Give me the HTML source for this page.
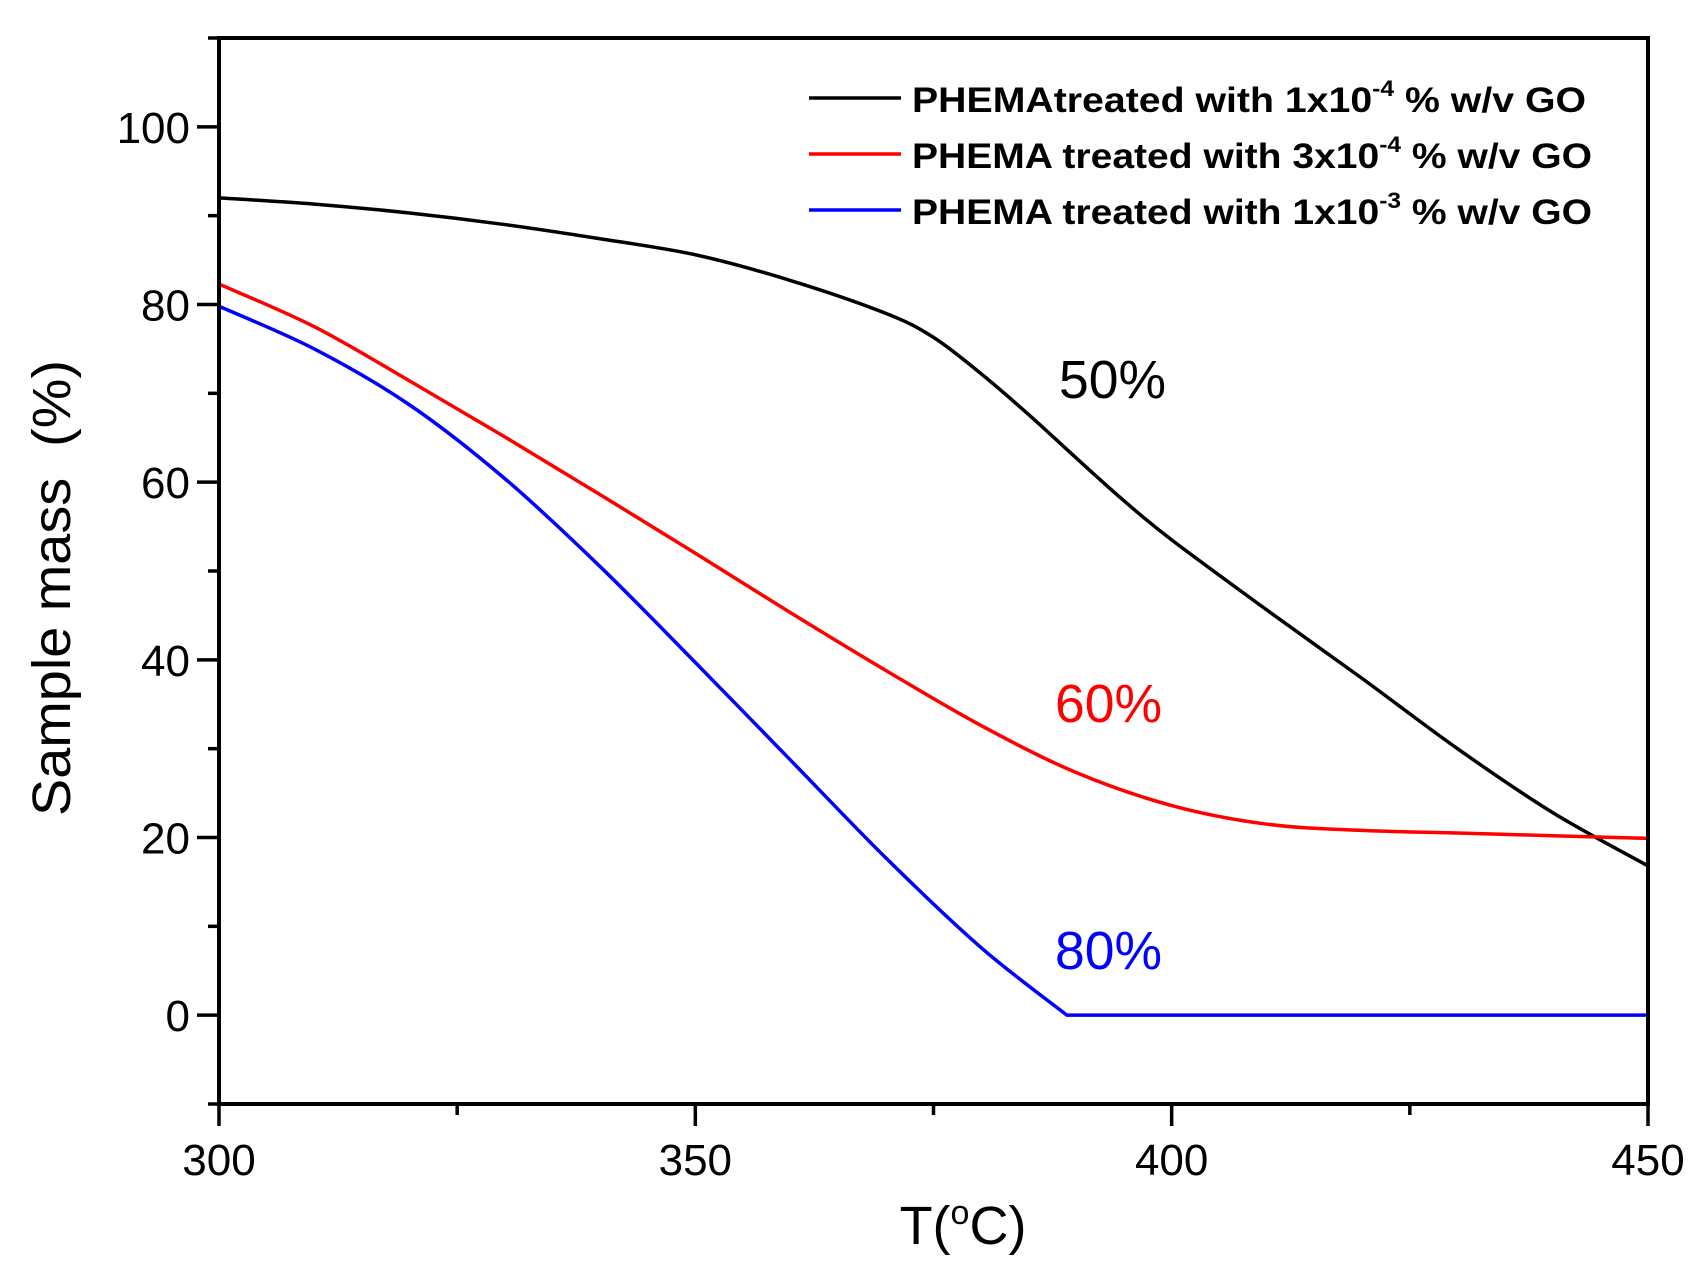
<!DOCTYPE html>
<html><head><meta charset="utf-8"><style>
html,body{margin:0;padding:0;background:#fff;}
svg{display:block;font-family:"Liberation Sans",Arial,sans-serif;}
</style></head><body>
<svg id="chart" width="1702" height="1277" viewBox="0 0 1702 1277">
<g id="plot"></g>
</svg>
<script>
const xVals = [300,310,320,330,340,350,360,370,375,380,385,390,395,400,410,420,430,440,450];
const blackVals = [92,91.3,90.3,89,87.4,85.6,82.7,79,76.3,72.2,67.6,62.7,57.9,53.5,45.6,37.9,30,22.8,16.8];
const redX = [300,310,320,330,340,350,360,370,380,390,400,410,420,430,440,450];
const redVals = [82.3,77.5,71.4,65.1,58.6,52,45.3,38.8,32.6,27.3,23.6,21.5,20.8,20.5,20.2,19.9];
const blueX = [300,310,320,330,340,350,360,370,380,389,450];
const blueVals = [79.8,75,68.7,60.4,50.5,39.7,28.7,17.7,7.6,0,0];
const xTicks = [300,350,400,450];
const yTicks = [0,20,40,60,80,100];
const legendLabels = ["PHEMAtreated with 1x10","PHEMA treated with 3x10","PHEMA treated with 1x10"];
const legendExps = ["-4","-4","-3"];
const seriesColors = ["#000000","#ff0000","#0000ff"];
const annotations = ["50%","60%","80%"];

const X0=219,X1=1648,Y0=38,Y1=1104;
const xMin=300,xMax=450,yMin=-10,yMax=110;
const sx=v=>X0+(v-xMin)/(xMax-xMin)*(X1-X0);
const sy=v=>Y1-(v-yMin)/(yMax-yMin)*(Y1-Y0);
const NS="http://www.w3.org/2000/svg";
const g=document.getElementById('plot');
function mk(t,a,parent){const e=document.createElementNS(NS,t);for(const k in a)e.setAttribute(k,a[k]);(parent||g).appendChild(e);return e;}

function smoothPath(xs,ys){
  const p=xs.map((x,i)=>[sx(x),sy(ys[i])]);
  let d=`M${p[0][0]},${p[0][1]}`;
  for(let i=0;i<p.length-1;i++){
    const p0=p[i-1]||p[i],p1=p[i],p2=p[i+1],p3=p[i+2]||p2;
    const c1=[p1[0]+(p2[0]-p0[0])/6,p1[1]+(p2[1]-p0[1])/6];
    const c2=[p2[0]-(p3[0]-p1[0])/6,p2[1]-(p3[1]-p1[1])/6];
    d+=` C${c1[0]},${c1[1]} ${c2[0]},${c2[1]} ${p2[0]},${p2[1]}`;
  }
  return d;
}
function linePath(xs,ys){return xs.map((x,i)=>(i?'L':'M')+sx(x)+','+sy(ys[i])).join(' ');}

let e;
e=mk('path',{d:smoothPath(xVals,blackVals),fill:'none',stroke:seriesColors[0],'stroke-width':3.5});


e=mk('path',{d:smoothPath(redX,redVals),fill:'none',stroke:seriesColors[1],'stroke-width':3.5});


e=mk('path',{d:smoothPath(blueX.slice(0,10),blueVals.slice(0,10))+' '+linePath(blueX.slice(9),blueVals.slice(9)).replace('M','L'),fill:'none',stroke:seriesColors[2],'stroke-width':3.5});



e=mk('rect',{x:X0,y:Y0,width:X1-X0,height:Y1-Y0,fill:'none',stroke:'#000','stroke-width':4});



for(let v=300;v<=450;v+=25){
  const major=xTicks.includes(v);
  e=mk('line',{x1:sx(v),x2:sx(v),y1:Y1,y2:Y1+(major?22:11),stroke:'#000','stroke-width':3.5});
  
  
}
xTicks.forEach(v=>{
  e=mk('text',{x:sx(v),y:1175,'text-anchor':'middle','font-size':44});
  e.textContent=v;
  
  
});
for(let v=-10;v<=110;v+=10){
  const major=yTicks.includes(v);
  e=mk('line',{x1:X0,x2:X0-(major?22:11),y1:sy(v),y2:sy(v),stroke:'#000','stroke-width':3.5});
  
  
}
yTicks.forEach(v=>{
  e=mk('text',{x:190,y:sy(v)+16,'text-anchor':'end','font-size':44});
  e.textContent=v;
  
  
});

e=mk('text',{x:963,y:1244,'text-anchor':'middle','font-size':54});
e.innerHTML='T(<tspan dy="-20" font-size="34">o</tspan><tspan dy="20">C)</tspan>';


e=mk('text',{x:0,y:0,'text-anchor':'middle','font-size':54,transform:'translate(70,588) rotate(-90)',textLength:456,lengthAdjust:'spacingAndGlyphs'});
e.textContent='Sample mass\u00a0\u00a0(%)';



[112,168,224].forEach((by,i)=>{
  e=mk('line',{x1:809,x2:901,y1:by-14,y2:by-14,stroke:seriesColors[i],'stroke-width':3.5});
  
  
  e=mk('text',{x:912,y:by,'font-size':35,'font-weight':'bold'});
  const base=legendLabels[i];
  e.innerHTML=`<tspan>${base}</tspan><tspan dy="-16" font-size="22">${legendExps[i]}</tspan><tspan dy="16"> % w/v GO</tspan>`;
  e.setAttribute('textLength',i==0?674:680);
  e.setAttribute('lengthAdjust','spacingAndGlyphs');
  
  
});

[[1059,398],[1055,722],[1055,969]].forEach((p,i)=>{
  e=mk('text',{x:p[0],y:p[1],'font-size':54,fill:seriesColors[i],textLength:107,lengthAdjust:'spacingAndGlyphs'});
  e.textContent=annotations[i];
  
  
});
</script>
</body></html>
